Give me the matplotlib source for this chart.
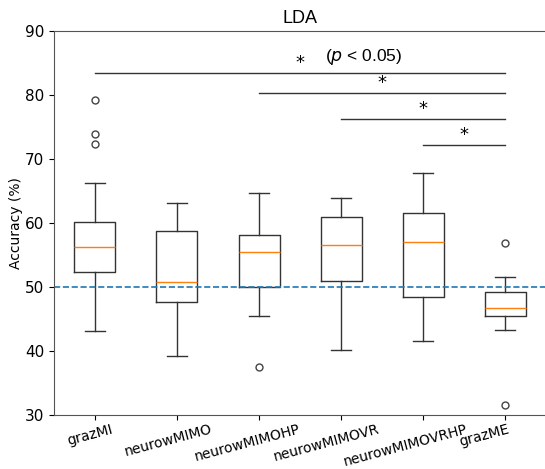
import matplotlib.pyplot as plt
from matplotlib.transforms import ScaledTranslation

# values
labels = ["grazMI", "neurowMIMO", "neurowMIMOHP", "neurowMIMOVR", "neurowMIMOVRHP", "grazME"]
whislo = [43.1, 39.3, 45.5, 40.1, 41.6, 43.3]
q1 = [52.4, 47.7, 50.0, 51.0, 48.5, 45.5]
med = [56.2, 50.8, 55.4, 56.6, 57.0, 46.7]
q3 = [60.1, 58.8, 58.2, 60.9, 61.5, 49.2]
whishi = [66.2, 63.1, 64.7, 63.9, 67.8, 51.6]
fliers = [[79.2, 73.9, 72.4], [], [37.5], [], [], [56.8, 31.6]]

# significance bars: (from, to, height)
sig_from = [1, 3, 4, 5]
sig_to = [6, 6, 6, 6]
sig_y = [83.5, 80.3, 76.3, 72.2]
chance = 50

stats = []
for i in range(len(labels)):
    stats.append(dict(label=labels[i], whislo=whislo[i], q1=q1[i], med=med[i],
                      q3=q3[i], whishi=whishi[i], fliers=fliers[i]))

fig = plt.figure(figsize=(5.45, 4.69), dpi=100)
ax = fig.add_axes([0.099, 0.115, 0.903, 0.819])

ax.bxp(stats, flierprops=dict(marker="o", markersize=5, markerfacecolor="none",
                              markeredgecolor="#444444"),
       boxprops=dict(color="#333333"), whiskerprops=dict(color="#333333"),
       capprops=dict(color="#333333"))
ax.axhline(chance, color="tab:blue", linestyle="--", linewidth=1.2)

for a, b, y in zip(sig_from, sig_to, sig_y):
    ax.plot([a, b], [y, y], color="#333333", linewidth=1)
    ax.text((a + b) / 2, y + 0.1, "*", ha="center", va="bottom", fontsize=13)

ax.text(4.27, 85.9, "($p$ < 0.05)", ha="center", va="center", fontsize=12.5,
        family="Liberation Sans")

ax.set_ylim(30, 90)
ax.set_xlim(0.5, 6.5)
ax.set_ylabel("Accuracy (%)", fontsize=10, labelpad=1)
ax.set_title("LDA", fontsize=13, family="Liberation Sans")
ax.tick_params(axis="y", labelsize=11)
ax.tick_params(axis="x", labelsize=10, pad=1.5)
# labels in the reference drift left a little more on each tick
for i, lab in enumerate(ax.get_xticklabels()):
    lab.set_rotation(15)
    dx = (-5 - 3.2 * i) / 100
    lab.set_transform(lab.get_transform() + ScaledTranslation(dx, 0, fig.dpi_scale_trans))
for s in ax.spines.values():
    s.set_color("#555555")

fig.savefig("out.png", dpi=100)
